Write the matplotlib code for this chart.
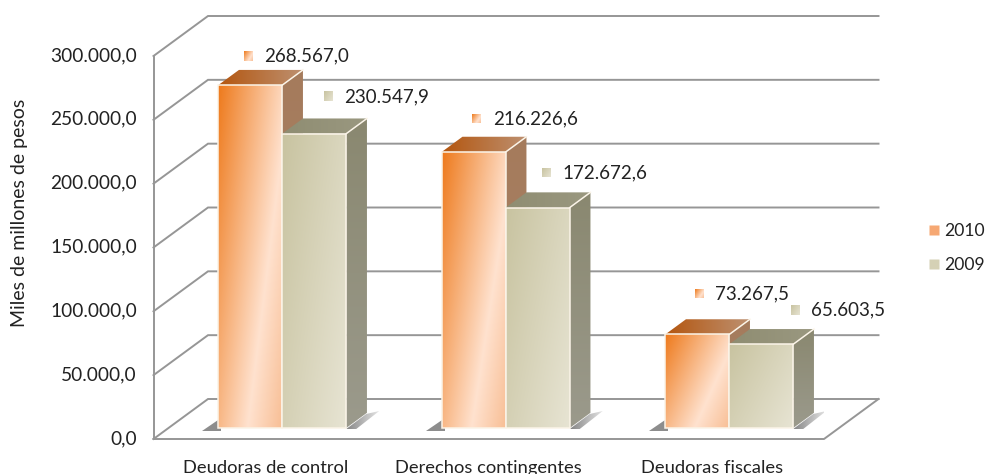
import numpy as np
import matplotlib.pyplot as plt
from matplotlib.colors import to_rgb
from matplotlib.lines import Line2D
from matplotlib.patches import Polygon
from matplotlib.transforms import ScaledTranslation

categories = ['Deudoras de control', 'Derechos contingentes', 'Deudoras fiscales']
values_2010 = [268567.0, 216226.6, 73267.5]
values_2009 = [230547.9, 172672.6, 65603.5]
series_names = ['2010', '2009']
y_ticks = [0, 50000, 100000, 150000, 200000, 250000, 300000]

W, H = 986, 474
plt.rcParams['font.family'] = ['Lato', 'DejaVu Sans']
text_color = '#222222'
grid_color = '#969696'

# axes = front plane of the 3d box, everything else is offset from it
left, right, bottom, top = 153.5, 824.0, 439.0, 56.0
fig = plt.figure(figsize=(W / 100, H / 100), dpi=100)
ax = fig.add_axes([left / W, 1 - bottom / H, (right - left) / W, (bottom - top) / H])
xlim = (-0.5, 2.5)
ylim = (0, 300000)
px_x = (xlim[1] - xlim[0]) / (right - left)  # data units per pixel
px_y = (ylim[1] - ylim[0]) / (bottom - top)

depth_x, depth_y = 54.5 * px_x, 40 * px_y


def project(x, v, d=0.0):  # oblique projection, d=0 front, d=1 back wall
    return x + d * depth_x, v + d * depth_y


def fmt(v):  # 268.567,0 style
    return f'{v:,.1f}'.replace(',', 'X').replace('.', ',').replace('X', '.')


def gradient_poly(pts, stops, a=0.5, b=0.5, z=3, clip=True):
    pts = np.array(pts)
    u, v = np.meshgrid(np.linspace(0, 1, 80), np.linspace(0, 1, 80))
    t = a * u + b * v
    ts = [s[0] for s in stops]
    cs = [to_rgb(s[1]) for s in stops]
    img = np.dstack([np.interp(t, ts, [c[i] for c in cs]) for i in range(3)])
    im = ax.imshow(img, extent=[pts[:, 0].min(), pts[:, 0].max(), pts[:, 1].min(), pts[:, 1].max()],
                   aspect='auto', origin='upper', zorder=z, interpolation='bilinear')
    if clip:
        im.set_clip_path(Polygon(pts, closed=True, transform=ax.transData))
    else:
        im.set_clip_on(False)


orange_front = [(0, '#ee7a1c'), (0.68, '#ffe2cf'), (1, '#f8bf96')]
orange_top = [(0, '#b4560f'), (1, '#bd9070')]
orange_side = [(0, '#a57b5c'), (1, '#a98468')]
khaki_front = [(0, '#c8c3a0'), (1, '#e7e4d3')]
khaki_top = [(0, '#8f8d72'), (1, '#9a9880')]
khaki_side = [(0, '#8a8870'), (1, '#9b9a8c')]
edge = '#fbf4e8'

bar_d0, bar_d1 = 0.275, 0.655  # where the bars stand on the floor


def bar3d(x0, x1, v, front, top_c, side, z):
    fl = project(x0, 0, bar_d0)
    fr = project(x1, 0, bar_d0)
    tl = (fl[0], fl[1] + v)
    tr = (fr[0], fr[1] + v)
    dx, dy = (bar_d1 - bar_d0) * depth_x, (bar_d1 - bar_d0) * depth_y
    gradient_poly([tl, tr, (tr[0] + dx, tr[1] + dy), (tl[0] + dx, tl[1] + dy)], top_c, 1, 0, z)
    gradient_poly([fr, (fr[0] + dx, fr[1] + dy), (tr[0] + dx, tr[1] + dy), tr], side, 0, 1, z)
    gradient_poly([fl, fr, tr, tl], front, 0.6, 0.4, z + 0.1)
    ax.add_patch(Polygon([fl, fr, tr, tl], closed=True, fc='none', ec=edge, lw=1.1, zorder=z + 0.2))
    ax.plot([tr[0], tr[0] + dx], [tr[1], tr[1] + dy], color=edge, lw=1.1, zorder=z + 0.2)
    return tl, tr


def shadow(x0, x1, z=2):
    f = project(x0, 0, bar_d0)
    r = project(x1, 0, bar_d0)
    ax.add_patch(Polygon([(f[0] - 16 * px_x, f[1] - 3 * px_y), (f[0] + 3 * px_x, f[1] - 3 * px_y),
                          (f[0] + 3 * px_x, f[1] + 10 * px_y)],
                         closed=True, fc='#8d8d8d', ec='none', zorder=z))
    gradient_poly([(r[0], r[1] - 1 * px_y), (r[0] + 20 * px_x, r[1] + 14 * px_y),
                   (r[0] + 33 * px_x, r[1] + 17 * px_y), (r[0] + 10 * px_x, r[1] - 1 * px_y)],
                  [(0, '#858585'), (1, '#e4e4e4')], 1, 0, z)


# walls and floor
for v in y_ticks:
    a = project(-0.5, v, 0)
    b = project(-0.5, v, 1)
    c = project(2.5, v, 1)
    ax.plot([a[0], b[0], c[0]], [a[1], b[1], c[1]], color=grid_color, lw=1.4, zorder=1,
            clip_on=False, solid_joinstyle='miter')
ax.plot([-0.5, -0.5], [0, 300000], color=grid_color, lw=1.4, zorder=1, clip_on=False)
fa, fb = project(-0.5, 0), project(2.5, 0)
fc_ = project(2.5, 0, 1)
ax.plot([fa[0], fb[0], fc_[0]], [fa[1], fb[1], fc_[1]], color=grid_color, lw=1.4, zorder=1, clip_on=False)

# bars
bar_w = 64 * px_x
label_off = [(-2, -29), (14, -37), (3, -33), (9, -35), (2, -41), (34, -34)]
for i in range(len(categories)):
    x1 = i + 2 * px_x
    x0, x2 = x1 - bar_w, x1 + bar_w
    shadow(x0, x2)
    z = 3 + i
    tl1, tr1 = bar3d(x0, x1, values_2010[i], orange_front, orange_top, orange_side, z)
    tl2, tr2 = bar3d(x1, x2, values_2009[i], khaki_front, khaki_top, khaki_side, z + 0.4)
    for j, (tl, tr, v, st) in enumerate([(tl1, tr1, values_2010[i], orange_front),
                                         (tl2, tr2, values_2009[i], khaki_front)]):
        ox, oy = label_off[i * 2 + j]
        mx = (tl[0] + tr[0]) / 2 + ox * px_x
        my = tl[1] - oy * px_y
        s = 4.5
        gradient_poly([(mx - s * px_x, my - s * px_y), (mx + s * px_x, my - s * px_y),
                       (mx + s * px_x, my + s * px_y), (mx - s * px_x, my + s * px_y)],
                      st, 0.6, 0.4, 9, clip=False)
        ax.text(mx + 16 * px_x, my, fmt(v), fontsize=13.5, color=text_color, ha='left', va='center',
                zorder=10, clip_on=False)

ax.set_xlim(*xlim)
ax.set_ylim(*ylim)
ax.set_xticks(range(len(categories)), categories)
ax.set_yticks(y_ticks, [fmt(v) for v in y_ticks])
ax.tick_params(axis='both', length=0, labelcolor=text_color)
ax.tick_params(axis='y', pad=12, labelsize=13.8)
ax.tick_params(axis='x', pad=15, labelsize=13.2)
for lab in ax.get_yticklabels():
    lab.set_transform(lab.get_transform() + ScaledTranslation(0, 2 / 100, fig.dpi_scale_trans))
ax.set_ylabel('Miles de millones de pesos', fontsize=14, color=text_color)
ax.yaxis.set_label_coords((28 - left) / (right - left), (439 - 213) / 383)
for s in ax.spines.values():
    s.set_visible(False)
ax.patch.set_visible(False)

handles = [Line2D([], [], ls='none', marker='s', ms=6.5, mfc=c, mec='none') for c in ['#f6a873', '#d5d1b5']]
ax.legend(handles, series_names, loc='center left', bbox_to_anchor=((923 - left) / (right - left), (439 - 248) / 383),
          frameon=False, fontsize=12.6, labelcolor=text_color, handletextpad=0.0, handlelength=1.2,
          labelspacing=1.05, borderpad=0, borderaxespad=0)

fig.savefig('out.png', dpi=100)
